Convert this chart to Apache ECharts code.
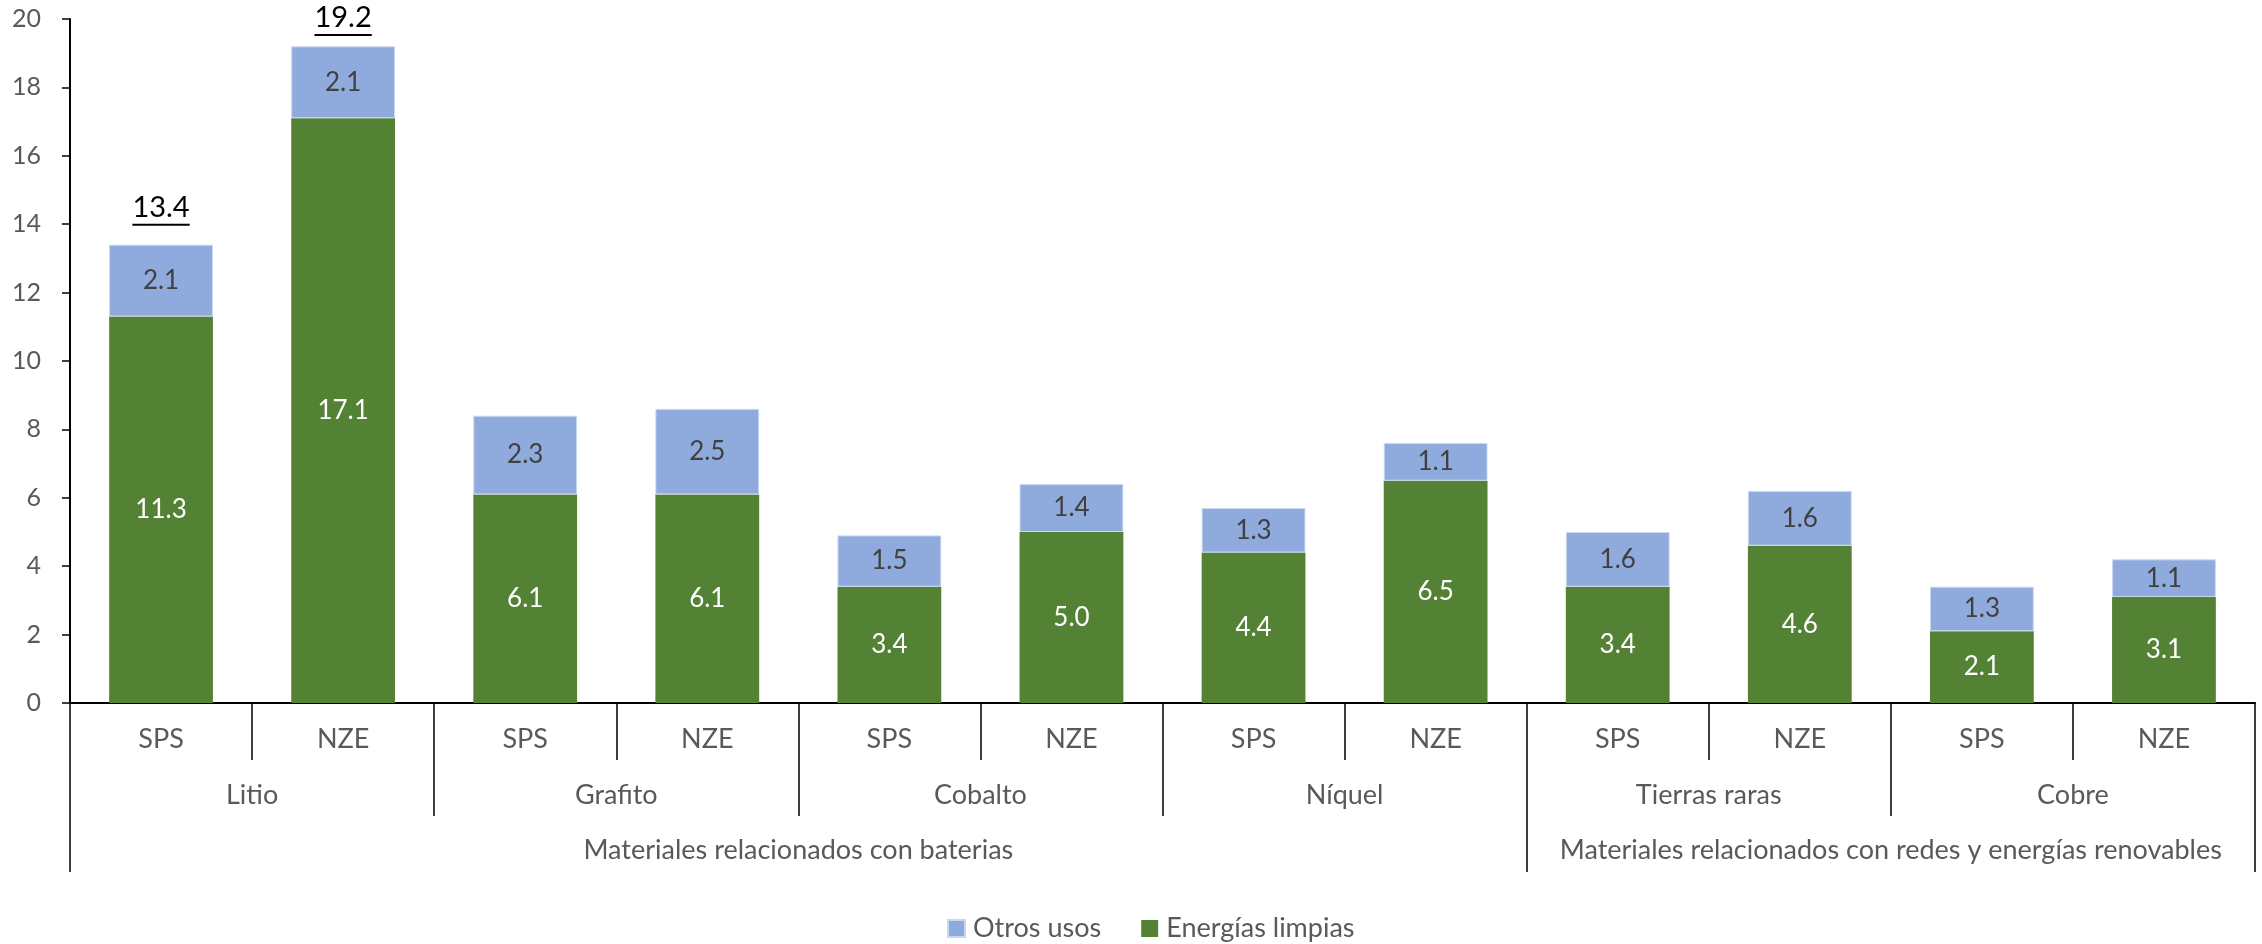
<!DOCTYPE html>
<html>
<head>
<meta charset="utf-8">
<script src="https://cdn.jsdelivr.net/npm/echarts@6/dist/echarts.min.js"></script>
<style>
html,body{margin:0;padding:0;background:#fff;}
#chart{width:2262px;height:944px;}
</style>
</head>
<body>
<div id="chart"></div>
<script>
// ---- data ----
const scenarios = ['SPS','NZE','SPS','NZE','SPS','NZE','SPS','NZE','SPS','NZE','SPS','NZE'];
const materials = ['Litio','Grafito','Cobalto','Níquel','Tierras raras','Cobre'];
const groupNames = ['Materiales relacionados con baterias','Materiales relacionados con redes y energías renovables'];
const groupSpans = [8, 4]; // number of bars per group
const cleanEnergy = [11.3, 17.1, 6.1, 6.1, 3.4, 5.0, 4.4, 6.5, 3.4, 4.6, 2.1, 3.1];
const otherUses   = [2.1, 2.1, 2.3, 2.5, 1.5, 1.4, 1.3, 1.1, 1.6, 1.6, 1.3, 1.1];
const totalLabels = [13.4, 19.2, null, null, null, null, null, null, null, null, null, null];
const yTicks = {min: 0, max: 20, interval: 2};

// ---- derived ----
const groupBounds = [0];
groupSpans.forEach(s => groupBounds.push(groupBounds[groupBounds.length - 1] + s));
const groupCenters = groupSpans.map((s, i) => groupBounds[i] + s / 2);
const totalData = totalLabels.map((v, i) => v == null ? null : [i, v]).filter(d => d);

const FONT = 'Lato, "Open Sans", sans-serif';
const GREY = '#595959';
const TXT = 27;   // category / legend text
const NUM = 26;   // bar value labels
const measureCtx = document.createElement('canvas').getContext('2d');

const chart = echarts.init(document.getElementById('chart'), null, {renderer: 'canvas'});
chart.setOption({
  animation: false,
  textStyle: {fontFamily: FONT},
  grid: {left: 70, right: 7, top: 19, bottom: 241, containLabel: false},
  legend: {
    left: 942, top: 910,
    itemWidth: 17, itemHeight: 17, itemGap: 40,
    icon: 'rect',
    data: ['Otros usos', 'Energías limpias'],
    textStyle: {fontSize: TXT, color: GREY, fontFamily: FONT, padding: [0, 0, 0, 3]}
  },
  xAxis: [
    {
      type: 'category', data: scenarios, position: 'bottom', gridIndex: 0,
      axisLine: {show: true, lineStyle: {color: '#000', width: 2}},
      axisTick: {show: true, interval: 0, length: 57, lineStyle: {color: '#000', width: 1.5}},
      axisLabel: {interval: 0, margin: 23, fontSize: TXT, color: GREY, fontFamily: FONT}
    },
    {
      type: 'category', data: materials, position: 'bottom', gridIndex: 0,
      axisLine: {show: false},
      axisTick: {show: true, interval: 0, length: 113, lineStyle: {color: '#000', width: 1.5}},
      axisLabel: {interval: 0, margin: 79, fontSize: TXT, color: GREY, fontFamily: FONT}
    },
    {
      type: 'value', position: 'bottom', gridIndex: 0,
      min: 0, max: groupBounds[groupBounds.length - 1],
      axisLine: {show: false},
      splitLine: {show: false},
      axisTick: {show: true, customValues: groupBounds, length: 169, lineStyle: {color: '#000', width: 1.5}},
      axisLabel: {
        customValues: groupCenters, margin: 134, fontSize: TXT, color: GREY, fontFamily: FONT,
        formatter: function (v) {
          const i = groupCenters.indexOf(v);
          return i >= 0 ? groupNames[i] : '';
        }
      }
    }
  ],
  yAxis: {
    type: 'value', min: yTicks.min, max: yTicks.max, interval: yTicks.interval,
    axisLine: {show: true, lineStyle: {color: '#000', width: 2}},
    axisTick: {show: true, length: 8, lineStyle: {color: '#000', width: 1.5}},
    splitLine: {show: false},
    axisLabel: {margin: 29, fontSize: 25, color: GREY, fontFamily: FONT}
  },
  series: [
    {
      name: 'Energías limpias', type: 'bar', stack: 'total', barWidth: '57%',
      xAxisIndex: 0, yAxisIndex: 0,
      data: cleanEnergy,
      itemStyle: {color: '#548235'},
      label: {show: true, position: 'inside', color: '#fff', fontSize: NUM, fontFamily: FONT,
        formatter: p => p.value.toFixed(1)}
    },
    {
      name: 'Otros usos', type: 'bar', stack: 'total', barWidth: '57%',
      xAxisIndex: 0, yAxisIndex: 0,
      data: otherUses,
      itemStyle: {color: '#8FAADC', borderColor: '#C9D7F0', borderWidth: 1},
      label: {show: true, position: 'inside', color: '#404040', fontSize: NUM, fontFamily: FONT,
        formatter: p => p.value.toFixed(1)}
    },
    {
      name: 'totals', type: 'custom', xAxisIndex: 0, yAxisIndex: 0,
      data: totalData, silent: true,
      renderItem: function (params, api) {
        const pt = api.coord([api.value(0), api.value(1)]);
        const txt = api.value(1).toFixed(1);
        const fs = 29;
        measureCtx.font = fs + 'px ' + FONT;
        const w = measureCtx.measureText(txt).width;
        const baseline = Math.max(pt[1] - 23, params.coordSys.y + 13);
        return {
          type: 'group',
          children: [
            {type: 'text', style: {x: pt[0], y: baseline, text: txt, fill: '#000',
              font: fs + 'px ' + FONT, textAlign: 'center', textVerticalAlign: 'bottom'}},
            {type: 'rect', shape: {x: pt[0] - w / 2, y: baseline + 2, width: w, height: 2},
              style: {fill: '#000'}}
          ]
        };
      }
    }
  ]
});
</script>
</body>
</html>
